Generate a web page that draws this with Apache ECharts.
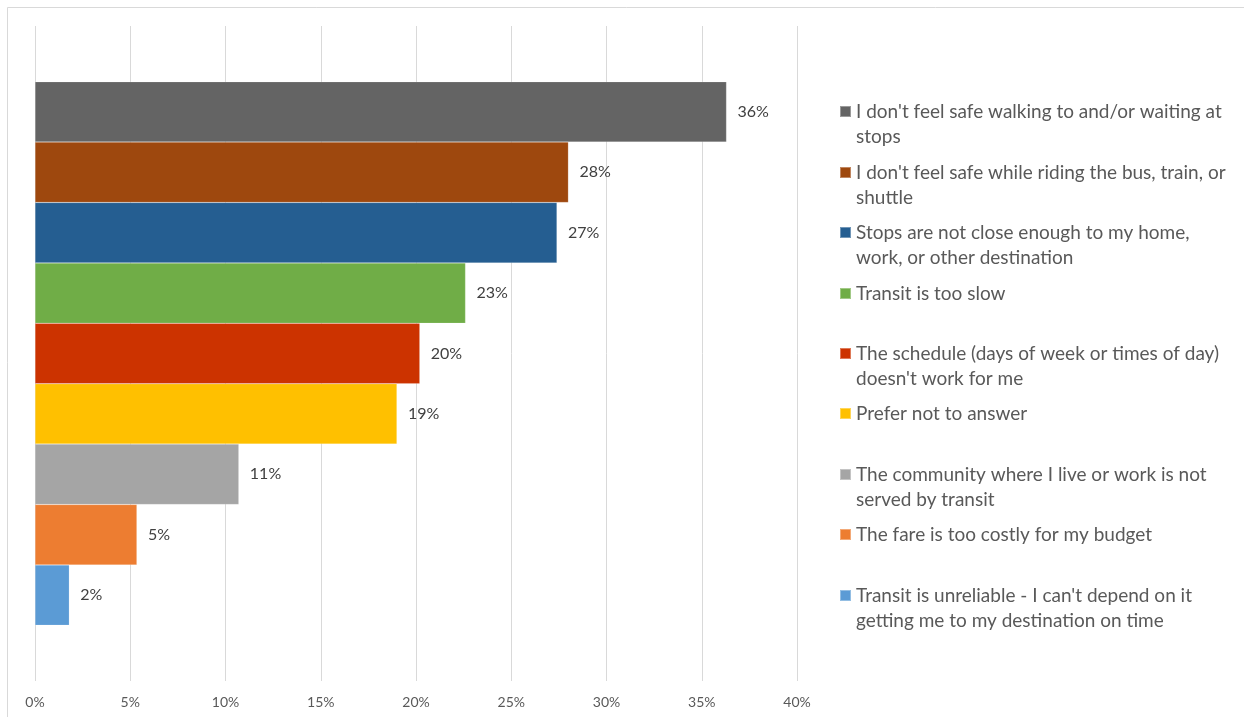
<!DOCTYPE html>
<html>
<head>
<meta charset="utf-8">
<script src="https://cdn.jsdelivr.net/npm/echarts@6/dist/echarts.min.js"></script>
<style>html,body{margin:0;padding:0;background:#fff}#c{width:1244px;height:717px}</style>
</head>
<body>
<div id="c"></div>
<script>
const seriesNames = [
  "I don't feel safe walking to and/or waiting at stops",
  "I don't feel safe while riding the bus, train, or shuttle",
  "Stops are not close enough to my home, work, or other destination",
  "Transit is too slow",
  "The schedule (days of week or times of day) doesn't work for me",
  "Prefer not to answer",
  "The community where I live or work is not served by transit",
  "The fare is too costly for my budget",
  "Transit is unreliable - I can't depend on it getting me to my destination on time"
];
const legendLines = [
  ["I don't feel safe walking to and/or waiting at", "stops"],
  ["I don't feel safe while riding the bus, train, or", "shuttle"],
  ["Stops are not close enough to my home,", "work, or other destination"],
  ["Transit is too slow"],
  ["The schedule (days of week or times of day)", "doesn't work for me"],
  ["Prefer not to answer"],
  ["The community where I live or work is not", "served by transit"],
  ["The fare is too costly for my budget"],
  ["Transit is unreliable - I can't depend on it", "getting me to my destination on time"]
];
const values = [36.3, 28.0, 27.4, 22.6, 20.2, 19.0, 10.7, 5.35, 1.8];
const colors = ["#646464", "#9E480E", "#255E91", "#70AD47", "#CC3300", "#FFC000", "#A5A5A5", "#ED7D31", "#5B9BD5"];
const xTicks = [0, 5, 10, 15, 20, 25, 30, 35, 40];

const FONT = 'Lato, "Open Sans", sans-serif';
const chart = echarts.init(document.getElementById('c'));

const gridTop = 26, gridBottom = 36, H = 717;
const plotH = H - gridTop - gridBottom;
const catGap = 0.17;
const barsH = plotH * (1 - catGap);
const barH = barsH / values.length;
const barsTop = gridTop + (plotH - barsH) / 2;
const LH = 25;

const legends = seriesNames.map((name, i) => {
  const center = barsTop + barH * (i + 0.5);
  const lines = legendLines[i];
  const two = lines.length > 1;
  return {
    data: [name],
    left: 839,
    top: Math.round(center - (two ? 1.5 * LH : 0.5 * LH)),
    padding: 0,
    icon: 'rect',
    itemWidth: 11,
    itemHeight: 11,
    selectedMode: false,
    formatter: () => (two ? '\n' : '') + lines.join('\n'),
    textStyle: { fontFamily: FONT, fontSize: 19, color: '#595959', lineHeight: LH }
  };
});

chart.setOption({
  animation: false,
  backgroundColor: '#fff',
  graphic: [{
    type: 'rect', shape: { x: 7.5, y: 7.5, width: 1250, height: 720 },
    style: { fill: 'none', stroke: '#d9d9d9', lineWidth: 1 }, silent: true
  }],
  grid: { left: 35, right: 447, top: gridTop, bottom: gridBottom, containLabel: false },
  legend: legends,
  xAxis: {
    type: 'value', min: xTicks[0], max: xTicks[xTicks.length - 1], interval: xTicks[1] - xTicks[0],
    axisLine: { show: false }, axisTick: { show: false },
    splitLine: { show: true, lineStyle: { color: '#d9d9d9', width: 1 } },
    axisLabel: { formatter: '{value}%', color: '#595959', fontFamily: FONT, fontSize: 14, margin: 14 }
  },
  yAxis: {
    type: 'category', data: [''],
    axisLine: { show: false }, axisTick: { show: false }, axisLabel: { show: false }
  },
  series: seriesNames.map((name, i) => ({
    name, type: 'bar', data: [values[i]],
    barGap: '0%', barCategoryGap: (catGap * 100) + '%',
    itemStyle: { color: colors[i], borderColor: 'rgba(255,255,255,0.35)', borderWidth: 0.5 },
    label: {
      show: true, position: 'right', distance: 11,
      formatter: p => Math.round(p.value) + '%',
      color: '#404040', fontFamily: FONT, fontSize: 16
    }
  }))
});
</script>
</body>
</html>
